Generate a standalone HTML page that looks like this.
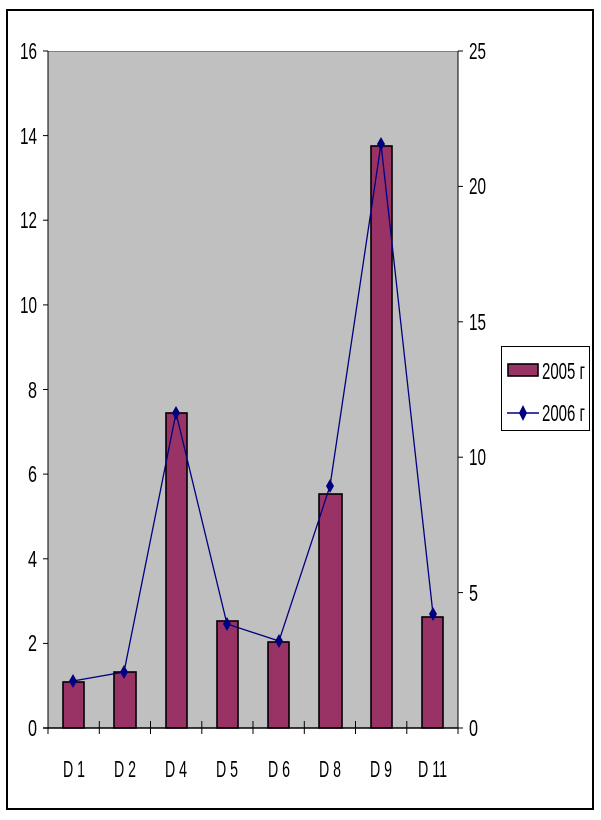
<!DOCTYPE html>
<html><head><meta charset="utf-8"><style>
html,body{margin:0;padding:0;background:#fff;}
svg{display:block;}
text{font-family:"Liberation Sans",sans-serif;font-size:23px;fill:#000;}
</style></head><body>
<svg width="601" height="820" viewBox="0 0 601 820" xmlns="http://www.w3.org/2000/svg">
<rect x="7" y="10" width="586" height="799" fill="#fff" stroke="#000" stroke-width="2"/>
<rect x="48" y="51" width="410" height="677" fill="#c0c0c0"/>
<line x1="48" y1="51.5" x2="458" y2="51.5" stroke="#808080" stroke-width="1"/>
<g fill="#993366" stroke="#000" stroke-width="1.6">
<rect x="63" y="682" width="21" height="46"/>
<rect x="114" y="672" width="22" height="56"/>
<rect x="166" y="413" width="21" height="315"/>
<rect x="217" y="621" width="21" height="107"/>
<rect x="268" y="642" width="21" height="86"/>
<rect x="319" y="494" width="23" height="234"/>
<rect x="371" y="146" width="21" height="582"/>
<rect x="422" y="617" width="21" height="111"/>
</g>
<g stroke="#000" stroke-width="1">
<line x1="48" y1="51" x2="48" y2="734"/>
<line x1="458" y1="51" x2="458" y2="734"/>
<line x1="43" y1="728" x2="458" y2="728" stroke-width="1.5"/>
<line x1="43" y1="51" x2="48" y2="51"/><line x1="43" y1="135.6" x2="48" y2="135.6"/><line x1="43" y1="220.2" x2="48" y2="220.2"/><line x1="43" y1="304.9" x2="48" y2="304.9"/><line x1="43" y1="389.5" x2="48" y2="389.5"/><line x1="43" y1="474.1" x2="48" y2="474.1"/><line x1="43" y1="558.8" x2="48" y2="558.8"/><line x1="43" y1="643.4" x2="48" y2="643.4"/>
<line x1="458" y1="51" x2="463" y2="51"/><line x1="458" y1="186.4" x2="463" y2="186.4"/><line x1="458" y1="321.8" x2="463" y2="321.8"/><line x1="458" y1="457.2" x2="463" y2="457.2"/><line x1="458" y1="592.6" x2="463" y2="592.6"/><line x1="458" y1="728" x2="463" y2="728"/>
<line x1="99.3" y1="721" x2="99.3" y2="734"/><line x1="150.5" y1="721" x2="150.5" y2="734"/><line x1="201.8" y1="721" x2="201.8" y2="734"/><line x1="253" y1="721" x2="253" y2="734"/><line x1="304.3" y1="721" x2="304.3" y2="734"/><line x1="355.5" y1="721" x2="355.5" y2="734"/><line x1="406.8" y1="721" x2="406.8" y2="734"/>
</g>
<polyline points="73,681 124,672 176,413 227,624 279,641 330,486 381,144 433,614" fill="none" stroke="#000080" stroke-width="1.3"/>
<g fill="#000080">
<path d="M73,674 l4,7 l-4,7 l-4,-7z"/><path d="M124,665 l4,7 l-4,7 l-4,-7z"/><path d="M176,406 l4,7 l-4,7 l-4,-7z"/><path d="M227,617 l4,7 l-4,7 l-4,-7z"/><path d="M279,634 l4,7 l-4,7 l-4,-7z"/><path d="M330,479 l4,7 l-4,7 l-4,-7z"/><path d="M381,137 l4,7 l-4,7 l-4,-7z"/><path d="M433,607 l4,7 l-4,7 l-4,-7z"/>
</g>
<g>
<text x="20" y="59" textLength="17" lengthAdjust="spacingAndGlyphs">16</text>
<text x="20" y="144" textLength="17" lengthAdjust="spacingAndGlyphs">14</text>
<text x="20" y="228" textLength="17" lengthAdjust="spacingAndGlyphs">12</text>
<text x="20" y="313" textLength="17" lengthAdjust="spacingAndGlyphs">10</text>
<text x="28" y="398" textLength="9" lengthAdjust="spacingAndGlyphs">8</text>
<text x="28" y="482" textLength="9" lengthAdjust="spacingAndGlyphs">6</text>
<text x="28" y="567" textLength="9" lengthAdjust="spacingAndGlyphs">4</text>
<text x="28" y="651" textLength="9" lengthAdjust="spacingAndGlyphs">2</text>
<text x="28" y="736" textLength="9" lengthAdjust="spacingAndGlyphs">0</text>
<text x="469" y="59" textLength="17" lengthAdjust="spacingAndGlyphs">25</text>
<text x="469" y="194" textLength="17" lengthAdjust="spacingAndGlyphs">20</text>
<text x="469" y="330" textLength="17" lengthAdjust="spacingAndGlyphs">15</text>
<text x="469" y="465" textLength="17" lengthAdjust="spacingAndGlyphs">10</text>
<text x="469" y="601" textLength="9" lengthAdjust="spacingAndGlyphs">5</text>
<text x="469" y="736" textLength="9" lengthAdjust="spacingAndGlyphs">0</text>
<text x="63" y="777" textLength="22" lengthAdjust="spacingAndGlyphs">D 1</text>
<text x="114" y="777" textLength="22" lengthAdjust="spacingAndGlyphs">D 2</text>
<text x="165" y="777" textLength="22" lengthAdjust="spacingAndGlyphs">D 4</text>
<text x="216" y="777" textLength="22" lengthAdjust="spacingAndGlyphs">D 5</text>
<text x="268" y="777" textLength="22" lengthAdjust="spacingAndGlyphs">D 6</text>
<text x="319" y="777" textLength="22" lengthAdjust="spacingAndGlyphs">D 8</text>
<text x="370" y="777" textLength="22" lengthAdjust="spacingAndGlyphs">D 9</text>
<text x="418" y="777" textLength="29" lengthAdjust="spacingAndGlyphs">D 11</text>
</g>
<rect x="501.5" y="346.5" width="88" height="84" fill="#fff" stroke="#000" stroke-width="1"/>
<rect x="508" y="364" width="30" height="12" fill="#993366" stroke="#000" stroke-width="1.6"/>
<text x="542" y="379" textLength="43" lengthAdjust="spacingAndGlyphs">2005 г</text>
<line x1="507" y1="413" x2="539" y2="413" stroke="#000080" stroke-width="1.5"/>
<path d="M523,405 l4,8 l-4,8 l-4,-8z" fill="#000080"/>
<text x="542" y="421" textLength="43" lengthAdjust="spacingAndGlyphs">2006 г</text>
</svg>
</body></html>
